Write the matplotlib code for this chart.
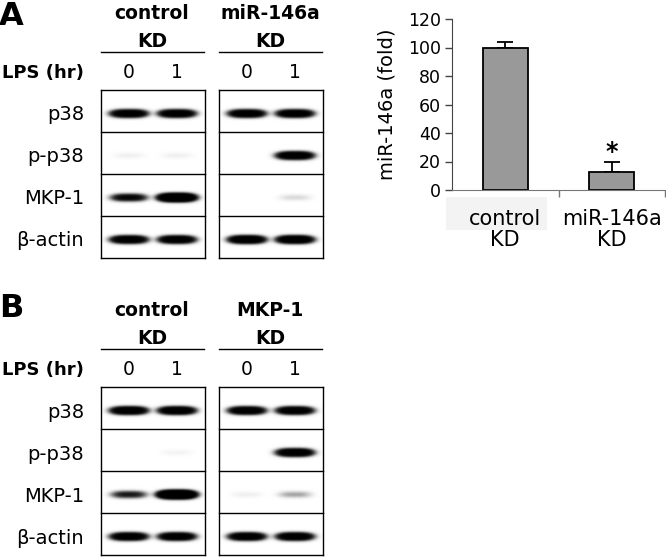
import numpy as np
import matplotlib
matplotlib.use("Agg")
import matplotlib.pyplot as plt
from matplotlib.patches import Rectangle

# ---- data ----
rows = ["p38", "p-p38", "MKP-1", "β-actin"]
lane_labels = ["0", "1"]
groups_a = ["control\nKD", "miR-146a\nKD"]
groups_b = ["control\nKD", "MKP-1\nKD"]

# band signal, rows x lanes (LPS 0 h, 1 h); >1 means saturated / thicker band
a_control = [[1.0, 1.0], [0.008, 0.008], [0.5, 2.2], [1.0, 1.0]]
a_mir146a = [[1.0, 1.0], [0.0, 1.1], [0.0, 0.02], [1.2, 1.2]]
b_control = [[1.1, 1.1], [0.0, 0.006], [0.3, 2.8], [1.0, 1.0]]
b_mkp1 = [[1.0, 1.0], [0.0, 1.1], [0.008, 0.055], [1.0, 1.0]]

bar_labels = ["control\nKD", "miR-146a\nKD"]
bar_values = [100, 12.5]
bar_errors = [4, 7]

# ---- layout (pixels) ----
W, H = 666, 559
BOX_X = [101, 219]
BOX_W, ROW_H = 104, 42
LANE_X = [28, 76]


def blot_image(signal, w, h, ss=4):
    """grayscale film: saturating exposure of gaussian-ish bands"""
    ys = (np.arange(h * ss) + 0.5) / ss
    xs = (np.arange(w * ss) + 0.5) / ss
    X, Y = np.meshgrid(xs, ys)
    rh = h / len(signal)
    dens = np.zeros_like(X)
    for i, row in enumerate(signal):
        yc = (i + 0.56) * rh
        for j, s in enumerate(row):
            gx = np.exp(-(np.abs(X - LANE_X[j]) / 15.0) ** 3)
            gy = np.exp(-((Y - yc) / 2.9) ** 2)
            dens += s * gx * gy
    return 1 - np.exp(-8.0 * dens)


def draw_panel(ax, top, label, label_base, groups, blots):
    ax.text(-1, label_base, label, fontsize=23, fontweight="bold",
            ha="left", va="baseline")
    box_top = top + 90
    nr = len(rows)
    for k, (grp, sig) in enumerate(zip(groups, blots)):
        x0 = BOX_X[k]
        g1, g2 = grp.split("\n")
        ax.text(x0 + 51, top + 19, g1, fontsize=13.5, fontweight="bold",
                ha="center", va="baseline")
        ax.text(x0 + 51, top + 47, g2, fontsize=13.5, fontweight="bold",
                ha="center", va="baseline")
        ax.plot([x0, x0 + 103], [top + 51.5] * 2, color="k", lw=1.0)
        for j, lab in enumerate(lane_labels):
            ax.text(x0 + LANE_X[j], top + 78, lab, fontsize=13.5,
                    ha="center", va="baseline")
        img = blot_image(sig, BOX_W, ROW_H * nr)
        ax.imshow(img, cmap="gray_r", vmin=0, vmax=1, aspect="auto",
                  interpolation="bilinear",
                  extent=(x0, x0 + BOX_W, box_top + ROW_H * nr, box_top))
        for r in range(nr + 1):
            ax.plot([x0, x0 + BOX_W], [box_top + r * ROW_H] * 2, color="k", lw=1.0)
        for xx in (x0, x0 + BOX_W):
            ax.plot([xx, xx], [box_top, box_top + ROW_H * nr], color="k", lw=1.0)
    ax.text(84, top + 78, "LPS (hr)", fontsize=13, fontweight="bold",
            ha="right", va="baseline")
    for i, r in enumerate(rows):
        ax.text(84, box_top + (i + 0.5) * ROW_H + 9.5, r, fontsize=14,
                ha="right", va="baseline")


fig = plt.figure(figsize=(W / 100, H / 100), dpi=100)
ov = fig.add_axes([0, 0, 1, 1])
ov.axis("off")

draw_panel(ov, 0, "A", 25, groups_a, [a_control, a_mir146a])
draw_panel(ov, 297, "B", 317, groups_b, [b_control, b_mkp1])

# faint scan artefact behind the first bar label
ov.add_patch(Rectangle((446, 197), 101, 33, color="#f3f3f3", lw=0, zorder=0))
ov.set_xlim(0, W)
ov.set_ylim(H, 0)

# ---- bar chart ----
bx = fig.add_axes([452 / W, (H - 190) / H, 213 / W, 171 / H])
x = np.arange(len(bar_values))
bx.bar(x, bar_values, width=0.42, color="#999999", edgecolor="k", lw=1.3, zorder=2)
bx.errorbar(x, bar_values, yerr=[[0] * len(bar_errors), bar_errors], fmt="none",
            ecolor="k", elinewidth=1.3, capsize=6, capthick=1.3, zorder=1)
bx.text(1, bar_values[1] + bar_errors[1] + 7, "*", fontsize=17, fontweight="bold",
        ha="center", va="center")
bx.set_xlim(-0.5, len(bar_values) - 0.5)
bx.set_ylim(0, 120)
bx.set_yticks(np.arange(0, 121, 20))
bx.set_xticks(x)
bx.set_xticklabels(bar_labels, fontsize=15, linespacing=1.05)
bx.set_xticks([0.5, 1.5], minor=True)
bx.tick_params(axis="x", which="major", length=0, pad=13.5)
bx.tick_params(axis="x", which="minor", length=5, width=1, color="#777777")
bx.tick_params(axis="y", length=5, width=1, color="#444444", labelsize=12.5, pad=3)
bx.set_ylabel("miR-146a (fold)", fontsize=14, labelpad=8)
for s in ("top", "right"):
    bx.spines[s].set_visible(False)
bx.spines["left"].set_color("#444444")
bx.spines["bottom"].set_color("#777777")
bx.patch.set_alpha(0)

fig.savefig("out.png", dpi=100)
